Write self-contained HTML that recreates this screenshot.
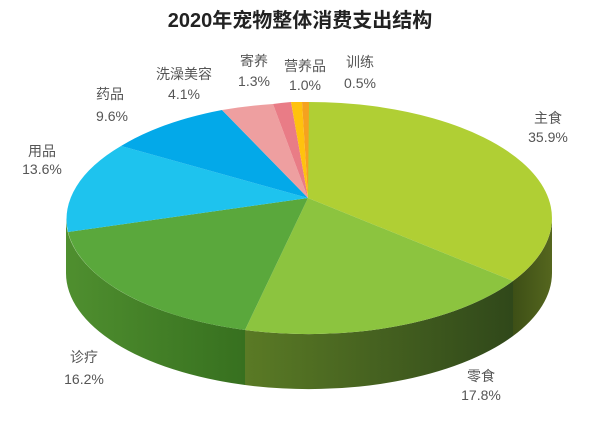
<!DOCTYPE html>
<html><head><meta charset="utf-8"><style>
body{margin:0;background:#fff;}
svg text{font-family:"Liberation Sans","Noto Sans CJK SC",sans-serif;fill:#555;font-size:14px;}
</style></head><body>
<svg width="600" height="416" viewBox="0 0 600 416" xmlns="http://www.w3.org/2000/svg">
<defs>
<linearGradient id="g1" x1="0" x2="1"><stop offset="0" stop-color="#4f8f2f"/><stop offset="1" stop-color="#37701f"/></linearGradient>
<linearGradient id="g2" x1="0" x2="1"><stop offset="0" stop-color="#5a7a25"/><stop offset="1" stop-color="#30481a"/></linearGradient>
<linearGradient id="g3" x1="0" x2="1"><stop offset="0" stop-color="#3d4f16"/><stop offset="1" stop-color="#55661e"/></linearGradient>
</defs>
<text x="300" y="27" text-anchor="middle" style="font-size:20px;font-weight:bold;fill:#222">2020年宠物整体消费支出结构</text>
<path d="M66,218 A243 116 0 0 0 245,330 L245,385 A243 116 0 0 1 66,273 Z" fill="url(#g1)"/>
<path d="M245,330 A243 116 0 0 0 513,281 L513,336 A243 116 0 0 1 245,385 Z" fill="url(#g2)"/>
<path d="M513,281 A243 116 0 0 0 552,218 L552,273 A243 116 0 0 1 513,336 Z" fill="url(#g3)"/>
<g>
<path d="M308,198 L308,102 A243 116 0 0 1 513,281 Z" fill="#b0cf34"/>
<path d="M308,198 L513,281 A243 116 0 0 1 245,330 Z" fill="#8cc43f"/>
<path d="M308,198 L245,330 A243 116 0 0 1 68,232 Z" fill="#5aa83c"/>
<path d="M308,198 L68,232 A243 116 0 0 1 121,146 Z" fill="#1ec3ee"/>
<path d="M308,198 L121,146 A243 116 0 0 1 222,110 Z" fill="#03a9e9"/>
<path d="M308,198 L222,110 A243 116 0 0 1 273,104 Z" fill="#ee9fa0"/>
<path d="M308,198 L273,104 A243 116 0 0 1 291,102 Z" fill="#e97c86"/>
<path d="M308,198 L291,102 A243 116 0 0 1 302,102 Z" fill="#ffc20e"/>
<path d="M308,198 L302,102 A243 116 0 0 1 309,102 Z" fill="#f5a21f"/>
</g>
<text x="548" y="123" text-anchor="middle">主食</text><text x="548" y="142" text-anchor="middle">35.9%</text>
<text x="481" y="381" text-anchor="middle">零食</text><text x="481" y="400" text-anchor="middle">17.8%</text>
<text x="84" y="362" text-anchor="middle">诊疗</text><text x="84" y="384" text-anchor="middle">16.2%</text>
<text x="42" y="156" text-anchor="middle">用品</text><text x="42" y="174" text-anchor="middle">13.6%</text>
<text x="110" y="99" text-anchor="middle">药品</text><text x="112" y="121" text-anchor="middle">9.6%</text>
<text x="184" y="79" text-anchor="middle">洗澡美容</text><text x="184" y="99" text-anchor="middle">4.1%</text>
<text x="254" y="66" text-anchor="middle">寄养</text><text x="254" y="86" text-anchor="middle">1.3%</text>
<text x="305" y="71" text-anchor="middle">营养品</text><text x="305" y="90" text-anchor="middle">1.0%</text>
<text x="360" y="67" text-anchor="middle">训练</text><text x="360" y="88" text-anchor="middle">0.5%</text>
</svg>
</body></html>
